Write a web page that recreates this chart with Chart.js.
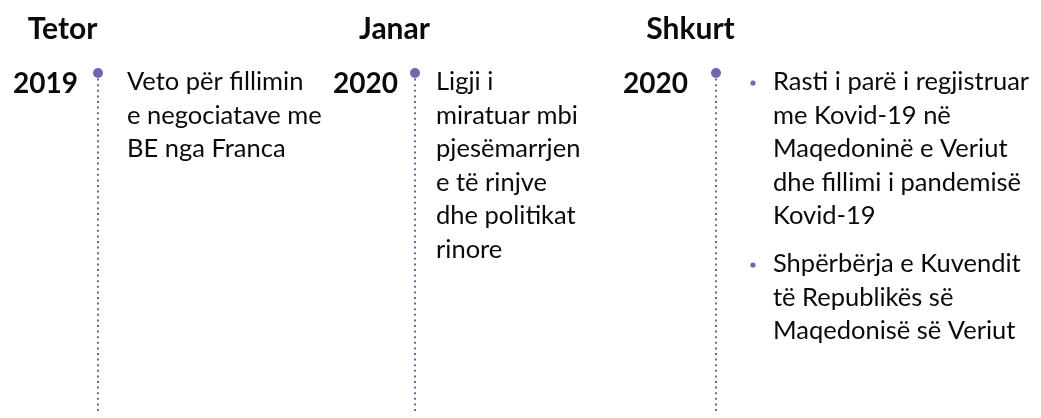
<!DOCTYPE html>
<html><head><meta charset="utf-8">
<script src="https://cdn.jsdelivr.net/npm/chart.js@4.4.1/dist/chart.umd.min.js"></script>
<style>html,body{margin:0;padding:0;background:#fff;overflow:hidden}#wrap{position:relative;width:1041px;height:418px}</style>
</head><body><div id="wrap"><canvas id="c"></canvas></div>
<script>
// ---- data ----
const months = ['Tetor', 'Janar', 'Shkurt'];
const years = ['2019', '2020', '2020'];
const events = [
  [['Veto për fillimin', 'e negociatave me', 'BE nga Franca']],
  [['Ligji i', 'miratuar mbi', 'pjesëmarrjen', 'e të rinjve', 'dhe politikat', 'rinore']],
  [['Rasti i parë i regjistruar', 'me Kovid-19 në', 'Maqedoninë e Veriut', 'dhe fillimi i pandemisë', 'Kovid-19'],
   ['Shpërbërja e Kuvendit', 'të Republikës së', 'Maqedonisë së Veriut']]
];
const columns = months.map((m, i) => i);

// ---- layout / style (not data) ----
const PURPLE = '#6e69ae';
const TEXT = '#0a0a0a';
const colNudge = [0, 8, 0];
const headerDx = [-35.5, -20.5, -25.5];
const yearDx = [-20, -17, -28];
const textDx = [29, 21, 57];
const bulletDx = 37;
const FONT = 'Lato, "Open Sans", sans-serif';
const lineH = 33.5, itemGap = 14.5;

const lineDatasets = columns.map(i => ({
  type: 'line',
  data: [{x: i, y: 0}, {x: i, y: 1}],
  borderColor: PURPLE, borderWidth: 2, borderDash: [2, 3.6], borderCapStyle: 'butt',
  pointRadius: 0, fill: false, order: 2
}));
const dotDataset = {
  type: 'scatter',
  data: columns.map(i => ({x: i, y: 0})),
  pointRadius: 5, pointBackgroundColor: PURPLE, pointBorderWidth: 0, order: 1
};

const nudgePlugin = {
  id: 'nudge',
  afterDatasetsUpdate(chart) {
    chart.data.datasets.forEach((ds, di) => {
      const meta = chart.getDatasetMeta(di);
      meta.data.forEach((el, j) => { el.x += colNudge[ds.data[j].x]; });
      if (meta.dataset) meta.dataset._path = undefined;
    });
  }
};

const textPlugin = {
  id: 'timelineText',
  afterDraw(chart) {
    const ctx = chart.ctx, xs = chart.scales.x, ys = chart.scales.y;
    ctx.save();
    ctx.fillStyle = TEXT;
    ctx.textBaseline = 'alphabetic';
    columns.forEach(i => {
      const px = xs.getPixelForValue(i) + colNudge[i];
      const py = ys.getPixelForValue(0);
      ctx.font = 'bold 30px ' + FONT;
      ctx.textAlign = 'center';
      ctx.fillStyle = TEXT;
      ctx.fillText(months[i], px + headerDx[i], py - 34);
      ctx.font = 'bold 28px ' + FONT;
      ctx.textAlign = 'right';
      ctx.fillText(years[i], px + yearDx[i], py + 20);
      ctx.font = '25.5px ' + FONT;
      ctx.textAlign = 'left';
      const bulleted = events[i].length > 1;
      let y = py + 17;
      events[i].forEach(item => {
        if (bulleted) {
          ctx.fillStyle = PURPLE;
          ctx.beginPath();
          ctx.arc(px + bulletDx, y - 7, 2.6, 0, Math.PI * 2);
          ctx.fill();
          ctx.fillStyle = TEXT;
        }
        item.forEach(line => {
          ctx.fillText(line, px + textDx[i], y);
          y += lineH;
        });
        y += itemGap;
      });
    });
    ctx.restore();
  }
};

new Chart(document.getElementById('c'), {
  data: { datasets: [dotDataset, ...lineDatasets] },
  options: {
    responsive: true, maintainAspectRatio: false, animation: false,
    layout: { padding: { left: 98, right: 325, top: 73, bottom: 0 } },
    plugins: { legend: { display: false }, tooltip: { enabled: false } },
    scales: {
      x: { type: 'linear', min: 0, max: 2, display: false },
      y: { type: 'linear', min: 0, max: 1, reverse: true, display: false }
    },
    clip: false
  },
  plugins: [nudgePlugin, textPlugin]
});
</script>
</body></html>
